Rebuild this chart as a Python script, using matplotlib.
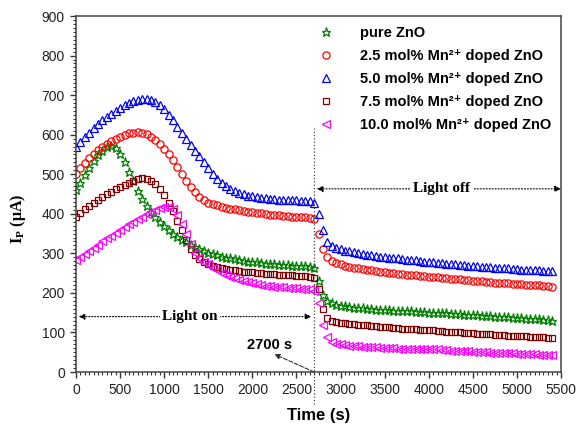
import numpy as np
import matplotlib
matplotlib.use("Agg")
import matplotlib.pyplot as plt
from matplotlib.ticker import MultipleLocator

plt.rcParams['font.family'] = ['Liberation Sans', 'DejaVu Sans']
plt.rcParams['mathtext.fontset'] = 'custom'
plt.rcParams['mathtext.bf'] = 'Liberation Serif:bold'
plt.rcParams['mathtext.sf'] = 'Liberation Sans:bold'
plt.rcParams['mathtext.rm'] = 'Liberation Sans'

# time grid (s)
time_s = np.arange(0, 5401, 50)

pure_zno = [460, 478, 497, 515, 533, 548, 560, 568, 571, 566,
            550, 530, 506, 482, 458, 438, 420, 405, 392, 380,
            369, 359, 350, 342, 335, 328, 322, 316, 311, 306,
            302, 298, 295, 292, 289, 287, 285, 283, 281, 279,
            278, 277, 275, 274, 273, 272, 271, 270, 270, 269,
            268, 267, 267, 266, 262, 230, 195, 180, 174, 170,
            168, 166, 164, 163, 162, 161, 160, 159, 158, 157,
            157, 156, 155, 155, 154, 153, 153, 152, 152, 151,
            150, 150, 149, 148, 148, 147, 146, 146, 145, 144,
            144, 143, 142, 142, 141, 140, 140, 139, 138, 137,
            137, 136, 135, 134, 134, 133, 132, 131, 130]

mn_2_5 = [500, 515, 528, 540, 551, 561, 569, 577, 584, 590,
          595, 599, 603, 605, 606, 605, 601, 595, 586, 576,
          565, 551, 535, 518, 500, 483, 467, 454, 443, 434,
          428, 424, 421, 418, 415, 413, 411, 409, 407, 405,
          404, 402, 401, 399, 398, 397, 396, 395, 394, 393,
          392, 392, 391, 390, 386, 350, 310, 290, 281, 276,
          272, 269, 266, 264, 262, 260, 258, 257, 255, 254,
          252, 251, 250, 248, 247, 246, 245, 244, 243, 242,
          241, 240, 239, 238, 237, 236, 235, 234, 233, 232,
          231, 230, 229, 228, 227, 226, 226, 225, 224, 223,
          222, 222, 221, 220, 219, 219, 218, 217, 216]

mn_5_0 = [570, 582, 594, 605, 616, 627, 636, 645, 653, 661,
          668, 674, 679, 684, 688, 690, 690, 687, 682, 674,
          664, 651, 636, 620, 605, 590, 575, 560, 545, 530,
          515, 500, 487, 477, 469, 462, 457, 452, 449, 446,
          444, 442, 440, 439, 438, 437, 436, 435, 435, 434,
          434, 433, 433, 432, 428, 400, 360, 328, 318, 313,
          310, 307, 305, 303, 301, 299, 297, 296, 294, 292,
          291, 289, 288, 287, 285, 284, 283, 282, 280, 279,
          278, 277, 276, 275, 274, 273, 272, 271, 270, 269,
          268, 267, 266, 266, 265, 264, 263, 262, 262, 261,
          260, 259, 259, 258, 257, 257, 256, 255, 255]

mn_7_5 = [392, 402, 411, 420, 428, 436, 443, 450, 456, 462,
          468, 474, 479, 484, 488, 490, 489, 484, 475, 463,
          447, 428, 406, 382, 360, 333, 311, 296, 286, 278,
          273, 269, 266, 263, 261, 259, 257, 256, 254, 253,
          252, 251, 250, 249, 248, 247, 246, 245, 245, 244,
          243, 243, 242, 241, 238, 210, 160, 136, 130, 127,
          125, 124, 122, 121, 120, 119, 118, 117, 116, 115,
          114, 113, 112, 111, 110, 109, 109, 108, 107, 106,
          105, 105, 104, 103, 102, 101, 101, 100, 99, 98,
          98, 97, 96, 96, 95, 94, 94, 93, 92, 92,
          91, 90, 90, 89, 89, 88, 88, 87, 87]

mn_10_0 = [282, 290, 298, 306, 314, 322, 330, 338, 345, 352,
           359, 366, 373, 380, 387, 393, 399, 405, 410, 414,
           417, 417, 411, 397, 375, 349, 323, 302, 287, 278,
           272, 264, 257, 251, 246, 241, 237, 233, 230, 227,
           224, 222, 220, 218, 217, 216, 215, 214, 213, 212,
           212, 211, 211, 210, 205, 175, 120, 88, 77, 72,
           70, 68, 67, 66, 65, 64, 63, 62, 62, 61,
           61, 60, 60, 59, 59, 58, 58, 58, 59, 59,
           59, 58, 57, 56, 55, 54, 54, 53, 52, 52,
           51, 51, 50, 50, 49, 49, 48, 48, 47, 47,
           46, 46, 45, 45, 45, 44, 44, 44, 43]

series = [pure_zno, mn_2_5, mn_5_0, mn_7_5, mn_10_0]
labels = ["pure ZnO",
          "2.5 mol% Mn\u00b2\u207a doped ZnO",
          "5.0 mol% Mn\u00b2\u207a doped ZnO",
          "7.5 mol% Mn\u00b2\u207a doped ZnO",
          "10.0 mol% Mn\u00b2\u207a doped ZnO"]
colors = ['#008000', '#ff0000', '#0000ff', '#800000', '#ff00ff']
markers = ['*', 'o', '^', 's', '<']
msizes = [6.5, 5.2, 5.8, 4.8, 5.8]

fig = plt.figure(figsize=(5.78, 4.28), dpi=100)
ax = fig.add_axes([0.1315, 0.1308, 0.8391, 0.8318])

for y, lab, c, m, ms in zip(series, labels, colors, markers, msizes):
    ax.plot(time_s, y, linestyle='none', marker=m, markersize=ms,
            markerfacecolor='none', markeredgecolor=c, markeredgewidth=0.9,
            label=lab)

ax.set_xlim(0, 5500)
ax.set_ylim(0, 900)
ax.xaxis.set_major_locator(MultipleLocator(500))
ax.xaxis.set_minor_locator(MultipleLocator(50))
ax.yaxis.set_major_locator(MultipleLocator(100))
ax.yaxis.set_minor_locator(MultipleLocator(10))
ax.tick_params(which='both', direction='out', top=False, right=False,
               colors='#333333', labelcolor='#222222', labelsize=10)
ax.tick_params(which='major', length=4.5, width=1)
ax.tick_params(which='minor', length=2.5, width=0.8)
for sp in ax.spines.values():
    sp.set_color('#444444')
    sp.set_linewidth(1.1)

ax.set_xlabel("Time (s)", fontsize=12, fontweight='bold', labelpad=8)
ax.set_ylabel(r"I$_{\mathbf{P}}$ ($\mathbf{\mu}$A)", fontsize=11.5,
              fontweight='bold', family='Liberation Serif')
ax.yaxis.set_label_coords(-0.10, 0.43)

# switching line at 2700 s
ax.plot([2700, 2700], [-80, 617], color='#444444', linestyle=':',
        linewidth=0.9, clip_on=False)

# Light on
arrow_kw = dict(arrowstyle='-|>', color='black', linestyle=':', lw=0.8,
                mutation_scale=9, shrinkA=0, shrinkB=0)
ax.annotate('', xy=(30, 140), xytext=(1293, 140), arrowprops=arrow_kw)
ax.annotate('', xy=(2670, 140), xytext=(1293, 140), arrowprops=arrow_kw)
ax.text(1293, 140, "Light on", ha='center', va='center', fontsize=11,
        fontweight='bold', family='Liberation Serif',
        bbox=dict(facecolor='white', edgecolor='none', pad=1.5))

# Light off
ax.annotate('', xy=(2730, 463), xytext=(4150, 463), arrowprops=arrow_kw)
ax.annotate('', xy=(5500, 463), xytext=(4150, 463), arrowprops=arrow_kw)
ax.text(4150, 463, "Light off", ha='center', va='center', fontsize=11,
        fontweight='bold', family='Liberation Serif',
        bbox=dict(facecolor='white', edgecolor='none', pad=1.5))

# 2700 s
ax.annotate('', xy=(2250, 45), xytext=(2700, 0),
            arrowprops=dict(arrowstyle='-|>', color='#333333', linestyle='--',
                            lw=0.8, mutation_scale=8, shrinkA=0, shrinkB=0))
ax.text(2200, 68, "2700 s", ha='center', va='center', fontsize=10.5,
        fontweight='bold')

leg = ax.legend(loc='upper right', bbox_to_anchor=(1.0, 1.0), frameon=False,
                handlelength=1.0, handletextpad=1.8, labelspacing=0.62,
                borderaxespad=0.3,
                prop=dict(weight='bold', size=10.5,
                          family=['Liberation Sans', 'DejaVu Sans']))

fig.savefig("out.png", dpi=100)
